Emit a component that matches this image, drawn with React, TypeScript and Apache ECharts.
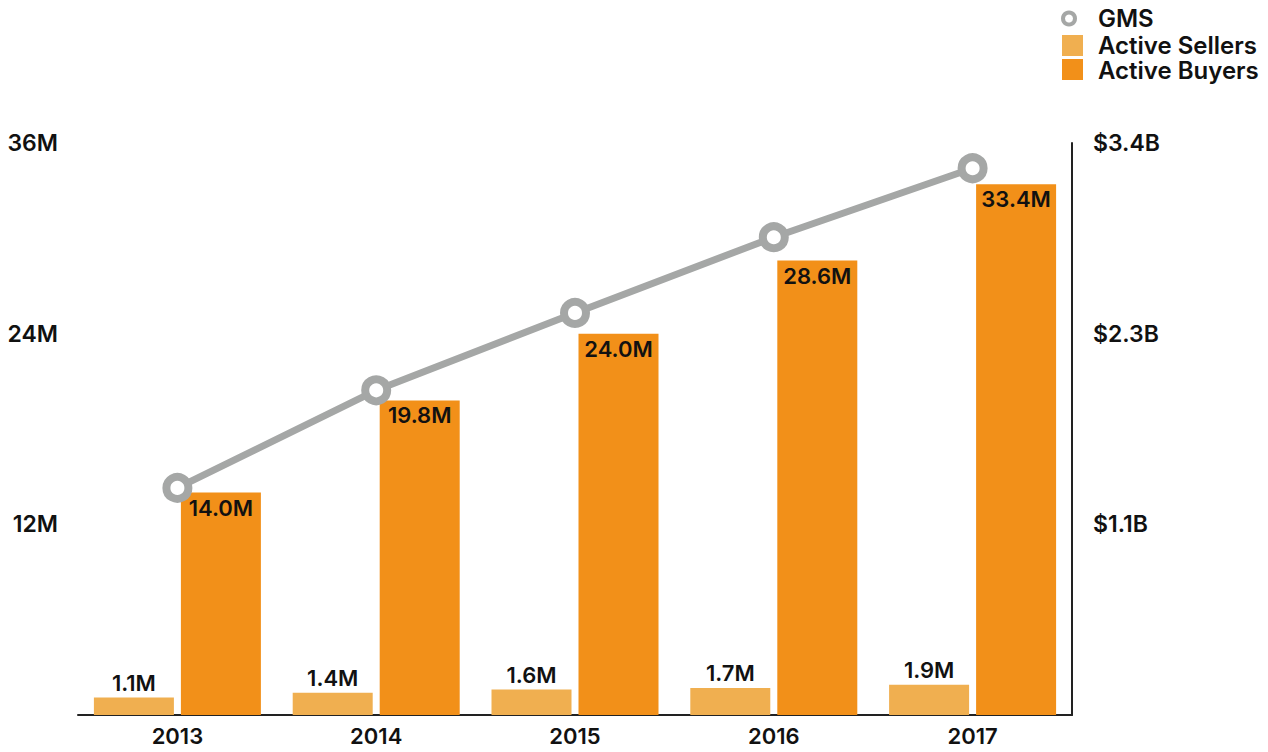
import React, { useEffect, useRef } from "react";
import * as echarts from "echarts";

const years = ["2013", "2014", "2015", "2016", "2017"];
const activeSellers = [1.1, 1.4, 1.6, 1.7, 1.9];
const activeBuyers = [14.0, 19.8, 24.0, 28.6, 33.4];
const gms = [1.35, 1.93, 2.39, 2.84, 3.25];
const legendNames = ["GMS", "Active Sellers", "Active Buyers"];

const FONT = "Inter";
const TXT = "#111111";
const GREY = "#A5A7A6";
const SELLERS = "#F0AF50";
const BUYERS = "#F29019";

export default function App() {
  const ref = useRef<HTMLDivElement>(null);
  useEffect(() => {
    document.body.style.margin = "0";
    const chart = echarts.init(ref.current!, null, { renderer: "svg" });
    const textStyle = { fontFamily: FONT, fontSize: 22, fontWeight: 600, color: TXT };
    const legendFont = {
      fontFamily: FONT,
      fontSize: 24,
      fontWeight: 600,
      lineHeight: 22,
      fill: TXT,
      verticalAlign: "middle" as const,
    };
    const rowY = [18.5, 45.5, 70];
    chart.setOption({
      animation: false,
      textStyle: { fontFamily: FONT },
      grid: { left: 78, right: 196, top: 143, bottom: 37 },
      graphic: [
        {
          type: "circle",
          shape: { cx: 1069, cy: rowY[0], r: 6 },
          style: { fill: "#ffffff", stroke: GREY, lineWidth: 4 },
        },
        { type: "text", x: 1098, y: rowY[0], style: { text: legendNames[0], ...legendFont } },
        {
          type: "rect",
          shape: { x: 1062, y: 35, width: 21, height: 21 },
          style: { fill: SELLERS },
        },
        { type: "text", x: 1098, y: rowY[1], style: { text: legendNames[1], ...legendFont } },
        {
          type: "rect",
          shape: { x: 1062, y: 59, width: 21, height: 21 },
          style: { fill: BUYERS },
        },
        { type: "text", x: 1098, y: rowY[2], style: { text: legendNames[2], ...legendFont } },
      ],
      xAxis: {
        type: "category",
        data: years,
        axisLine: { lineStyle: { color: "#222", width: 2 } },
        axisTick: { show: false },
        axisLabel: { ...textStyle, margin: 10 },
      },
      yAxis: [
        {
          type: "value",
          min: 0,
          max: 36,
          interval: 12,
          axisLine: { show: false },
          axisTick: { show: false },
          splitLine: { show: false },
          axisLabel: {
            ...textStyle,
            fontSize: 23,
            margin: 20,
            formatter: (v: number) => (v === 0 ? "" : v + "M"),
          },
        },
        {
          type: "value",
          min: 0,
          max: 3.4,
          interval: 3.4 / 3,
          position: "right",
          axisLine: { show: true, lineStyle: { color: "#222", width: 2 } },
          axisTick: { show: false },
          splitLine: { show: false },
          axisLabel: {
            ...textStyle,
            fontSize: 23,
            margin: 21,
            formatter: (v: number) => (v === 0 ? "" : "$" + v.toFixed(1) + "B"),
          },
        },
      ],
      series: [
        {
          name: legendNames[1],
          type: "bar",
          data: activeSellers,
          barWidth: 80,
          barGap: "8.75%",
          itemStyle: { color: SELLERS },
          label: {
            show: true,
            position: "top",
            distance: 4,
            ...textStyle,
            formatter: (p: any) => p.value.toFixed(1) + "M",
          },
        },
        {
          name: legendNames[2],
          type: "bar",
          data: activeBuyers,
          barWidth: 80,
          itemStyle: { color: BUYERS },
          label: {
            show: true,
            position: "insideTop",
            distance: 4,
            ...textStyle,
            formatter: (p: any) => p.value.toFixed(1) + "M",
          },
        },
        {
          name: legendNames[0],
          type: "line",
          yAxisIndex: 1,
          data: gms,
          z: 5,
          symbol: "circle",
          symbolSize: 22,
          lineStyle: { color: GREY, width: 7 },
          itemStyle: { color: "#ffffff", borderColor: GREY, borderWidth: 8 },
        },
      ],
    });
    return () => chart.dispose();
  }, []);
  return <div ref={ref} style={{ width: 1268, height: 752 }} />;
}
